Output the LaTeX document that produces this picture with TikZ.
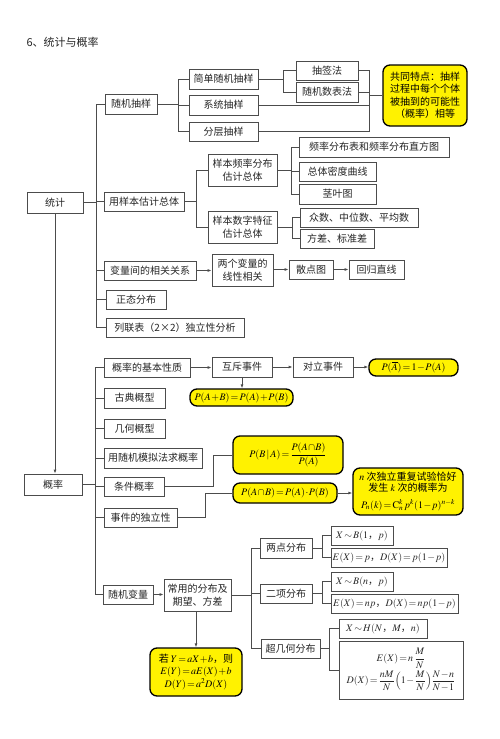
\documentclass[tikz,border=0pt]{standalone}
\usepackage{amsmath}
\usepackage{mathptmx}
\usepackage{fontspec}
\newfontfamily\cjk{Noto Sans CJK SC}
\usetikzlibrary{arrows.meta}
\newcommand\mybox[7][box]{\node[#1,minimum width={#5-#3},minimum height={#6-#4}] (#2) at ({(#3+#5)/2},{(#4+#6)/2}) {#7};}
\thickmuskip=2mu plus 1mu
\medmuskip=1mu plus 1mu
\begin{document}
\begin{tikzpicture}[x=1pt,y=-1pt,
  box/.style={draw=black!70, line width=0.8pt, fill=white, inner sep=0pt, align=center, text=black!85, font=\cjk\fontsize{10}{12.5}\selectfont},
  ybox/.style={draw=black, line width=1.3pt, fill=yellow, rounded corners=7pt, inner sep=0pt, align=center, text=black, font=\cjk\fontsize{10}{12.5}\selectfont},
  ln/.style={draw=black!70, line width=0.8pt},
  arr/.style={ln, -{Latex[length=4pt,width=3pt]}}]
\useasboundingbox[fill=white] (0,0) rectangle (500,739);
\node[anchor=west, font=\cjk\fontsize{11}{13}\selectfont, text=black!85] (title) at (23,42) {6、统计与概率};

% ---------- 统计 ----------
\mybox{tj}{27}{192}{83}{213}{统计}
\mybox{sj}{105}{94}{157}{114}{随机抽样}
\mybox{jd}{189}{69}{258}{89}{简单随机抽样}
\mybox{xt}{189}{95}{258}{115}{系统抽样}
\mybox{fc}{189}{122}{258}{141}{分层抽样}
\mybox{cq}{296}{61}{358}{80}{抽签法}
\mybox{sjs}{296}{82}{358}{102}{随机数表法}
\mybox[ybox]{gt}{383}{65}{467}{126}{共同特点：抽样\\过程中每个个体\\被抽到的可能性\\（概率）相等}
\mybox{yb}{104}{192}{184}{211}{用样本估计总体}
\mybox{pl}{208}{154}{277}{186}{样本频率分布\\估计总体}
\mybox{sz}{208}{211}{277}{243}{样本数字特征\\估计总体}
\mybox{zf}{299}{137}{449}{157}{频率分布表和频率分布直方图}
\mybox{md}{299}{162}{376}{181}{总体密度曲线}
\mybox{jy}{299}{184}{376}{204}{茎叶图}
\mybox{zs}{300}{208}{418}{227}{众数、中位数、平均数}
\mybox{fcb}{300}{229}{374}{248}{方差、标准差}
\mybox{bl}{104}{261}{196}{280}{变量间的相关关系}
\mybox{lx}{212}{254}{273}{286}{两个变量的\\线性相关}
\mybox{sd}{289}{260}{333}{279}{散点图}
\mybox{hg}{349}{260}{404}{279}{回归直线}
\mybox{zt}{106}{290}{166}{309}{正态分布}
\mybox{ll}{106}{318}{244}{337}{列联表（2×2）独立性分析}

\coordinate (t1) at (96,0);
\coordinate (c1) at (178,0);
\coordinate (c2) at (283,0);
\coordinate (c3) at (369,0);
\coordinate (c4) at (196,0);
\coordinate (c5) at (291,0);
\coordinate (c6) at (292,0);

\draw[ln] (tj.east) -- (tj.east -| t1);
\draw[ln] (sj.west) -- (sj.west -| t1) -- (ll.west -| t1) -- (ll.west);
\foreach \n in {yb,bl,zt} \draw[ln] (\n.west) -- (\n.west -| t1);

\draw[ln] (sj.east) -- (sj.east -| c1);
\draw[ln] (jd.west) -- (jd.west -| c1) -- (fc.west -| c1) -- (fc.west);
\draw[ln] (xt.west) -- (xt.west -| c1);

\draw[ln] (jd.east) -- (jd.east -| c2);
\draw[ln] (cq.west) -- (cq.west -| c2) -- (sjs.west -| c2) -- (sjs.west);

\draw[ln] (cq.east) -- (cq.east -| c3) -- (fc.east -| c3) -- (fc.east);
\draw[ln] (sjs.east) -- (sjs.east -| c3);
\draw[ln] (xt.east) -- (xt.east -| c3);
\draw[ln] (gt.west -| c3) -- (gt.west);

\draw[ln] (yb.east) -- (yb.east -| c4);
\draw[ln] (pl.west) -- (pl.west -| c4) -- (sz.west -| c4) -- (sz.west);

\draw[ln] (pl.east) -- (pl.east -| c5);
\draw[ln] (zf.west) -- (zf.west -| c5) -- (jy.west -| c5) -- (jy.west);
\draw[ln] (md.west) -- (md.west -| c5);

\draw[ln] (sz.east) -- (sz.east -| c6);
\draw[ln] (zs.west) -- (zs.west -| c6) -- (fcb.west -| c6) -- (fcb.west);

\draw[arr] (bl.east) -- (lx.west |- bl.east);
\draw[arr] (lx.east |- sd.west) -- (sd.west);
\draw[arr] (sd.east) -- (hg.west);

% ---------- 概率 ----------
\mybox{gl}{24}{474}{82}{495}{概率}
\draw[arr] (tj.south) -- (tj.south |- gl.north);

\mybox{jb}{104}{358}{190}{377}{概率的基本性质}
\mybox{hc}{212}{357}{272}{377}{互斥事件}
\mybox{dl}{293}{357}{353}{377}{对立事件}
\mybox[ybox]{pa}{369}{359}{458}{376}{$P(\overline{A})=1-P(A)$}
\mybox[ybox]{pab}{190}{389}{293}{406}{$P(A+B)=P(A)+P(B)$}
\mybox{gd}{104}{388}{165}{408}{古典概型}
\mybox{jh}{104}{419}{165}{438}{几何概型}
\mybox{mn}{104}{448}{202}{468}{用随机模拟法求概率}
\mybox{tj2}{104}{477}{164}{496}{条件概率}
\mybox{dlx}{104}{508}{177}{527}{事件的独立性}
\mybox[ybox]{pba}{233}{436}{343}{474}{$P(B\,|\,A)=\dfrac{P(A\cap B)}{P(A)}$}
\mybox[ybox]{pcap}{233}{483}{337}{503}{$P(A\cap B)=P(A)\boldsymbol{\cdot} P(B)$}
\mybox[ybox]{nci}{353}{468}{463}{515}{$n$ 次独立重复试验恰好\\[-1pt]发生 $k$ 次的概率为\\[4pt]$P_n(k)=\mathrm{C}_n^k\,p^k(1-p)^{n-k}$}
\mybox{sjbl}{103}{585}{153}{604}{随机变量}
\mybox{cy}{164}{579}{231}{611}{常用的分布及\\期望、方差}
\mybox[ybox]{yy}{150}{648}{242}{696}{若 $Y=aX+b$，则\\$E(Y)=aE(X)+b$\\$D(Y)=a^2D(X)$}
\mybox{ld}{260}{538}{312}{558}{两点分布}
\mybox{ex}{260}{584}{312}{603}{二项分布}
\mybox{cj}{261}{639}{320}{658}{超几何分布}
\mybox{b1}{331}{526}{393}{545}{$X\sim B(1$，$p)$}
\mybox{e1}{331}{548}{447}{567}{$E(X)=p$，$D(X)=p(1-p)$}
\mybox{b2}{331}{572}{393}{591}{$X\sim B(n$，$p)$}
\mybox{e2}{331}{594}{458}{613}{$E(X)=np$，$D(X)=np(1-p)$}
\mybox{h}{339}{619}{427}{638}{$X\sim H(N$，$M$，$n)$}
\mybox{hf}{339}{641}{463}{699}{$E(X)=n\,\dfrac{M}{N}$\\[1pt]$D(X)=\dfrac{nM}{N}\Bigl(1-\dfrac{M}{N}\Bigr)\dfrac{N-n}{N-1}$}

\coordinate (t2) at (95,0);
\coordinate (d1) at (213,0);
\coordinate (d2) at (205,0);
\coordinate (d3) at (251,0);
\coordinate (d4) at (322,0);
\coordinate (d5) at (329,0);

\draw[ln] (gl.east) -- (gl.east -| t2);
\draw[ln] (jb.west) -- (jb.west -| t2) -- (sjbl.west -| t2) -- (sjbl.west);
\foreach \n in {gd,jh,mn,tj2,dlx} \draw[ln] (\n.west) -- (\n.west -| t2);

\draw[arr] (jb.east) -- (hc.west |- jb.east);
\draw[arr] (hc.east) -- (dl.west);
\draw[arr] (dl.east) -- (pa.west |- dl.east);
\draw[arr] (hc.south) -- (hc.south |- pab.north);

\draw[ln] (tj2.east) -- (tj2.east -| d1) |- (pba.west);
\draw[ln] (dlx.east) -- (dlx.east -| d2) |- (pcap.west);
\draw[arr] (pcap.east) -- (nci.west |- pcap.east);

\draw[arr] (sjbl.east) -- (cy.west |- sjbl.east);
\draw[arr] (cy.south -| yy.north) -- (yy.north);

\draw[ln] (cy.east) -- (cy.east -| d3);
\draw[ln] (ld.west) -- (ld.west -| d3) -- (cj.west -| d3) -- (cj.west);
\draw[ln] (ex.west) -- (ex.west -| d3);

\draw[ln] (ld.east) -- (ld.east -| d4);
\draw[ln] (b1.west) -- (b1.west -| d4) -- (e1.west -| d4) -- (e1.west);
\draw[ln] (ex.east) -- (ex.east -| d4);
\draw[ln] (b2.west) -- (b2.west -| d4) -- (e2.west -| d4) -- (e2.west);
\draw[ln] (cj.east) -- (cj.east -| d5);
\draw[ln] (h.west) -- (h.west -| d5) -- (hf.west -| d5) -- (hf.west);
\end{tikzpicture}
\end{document}
